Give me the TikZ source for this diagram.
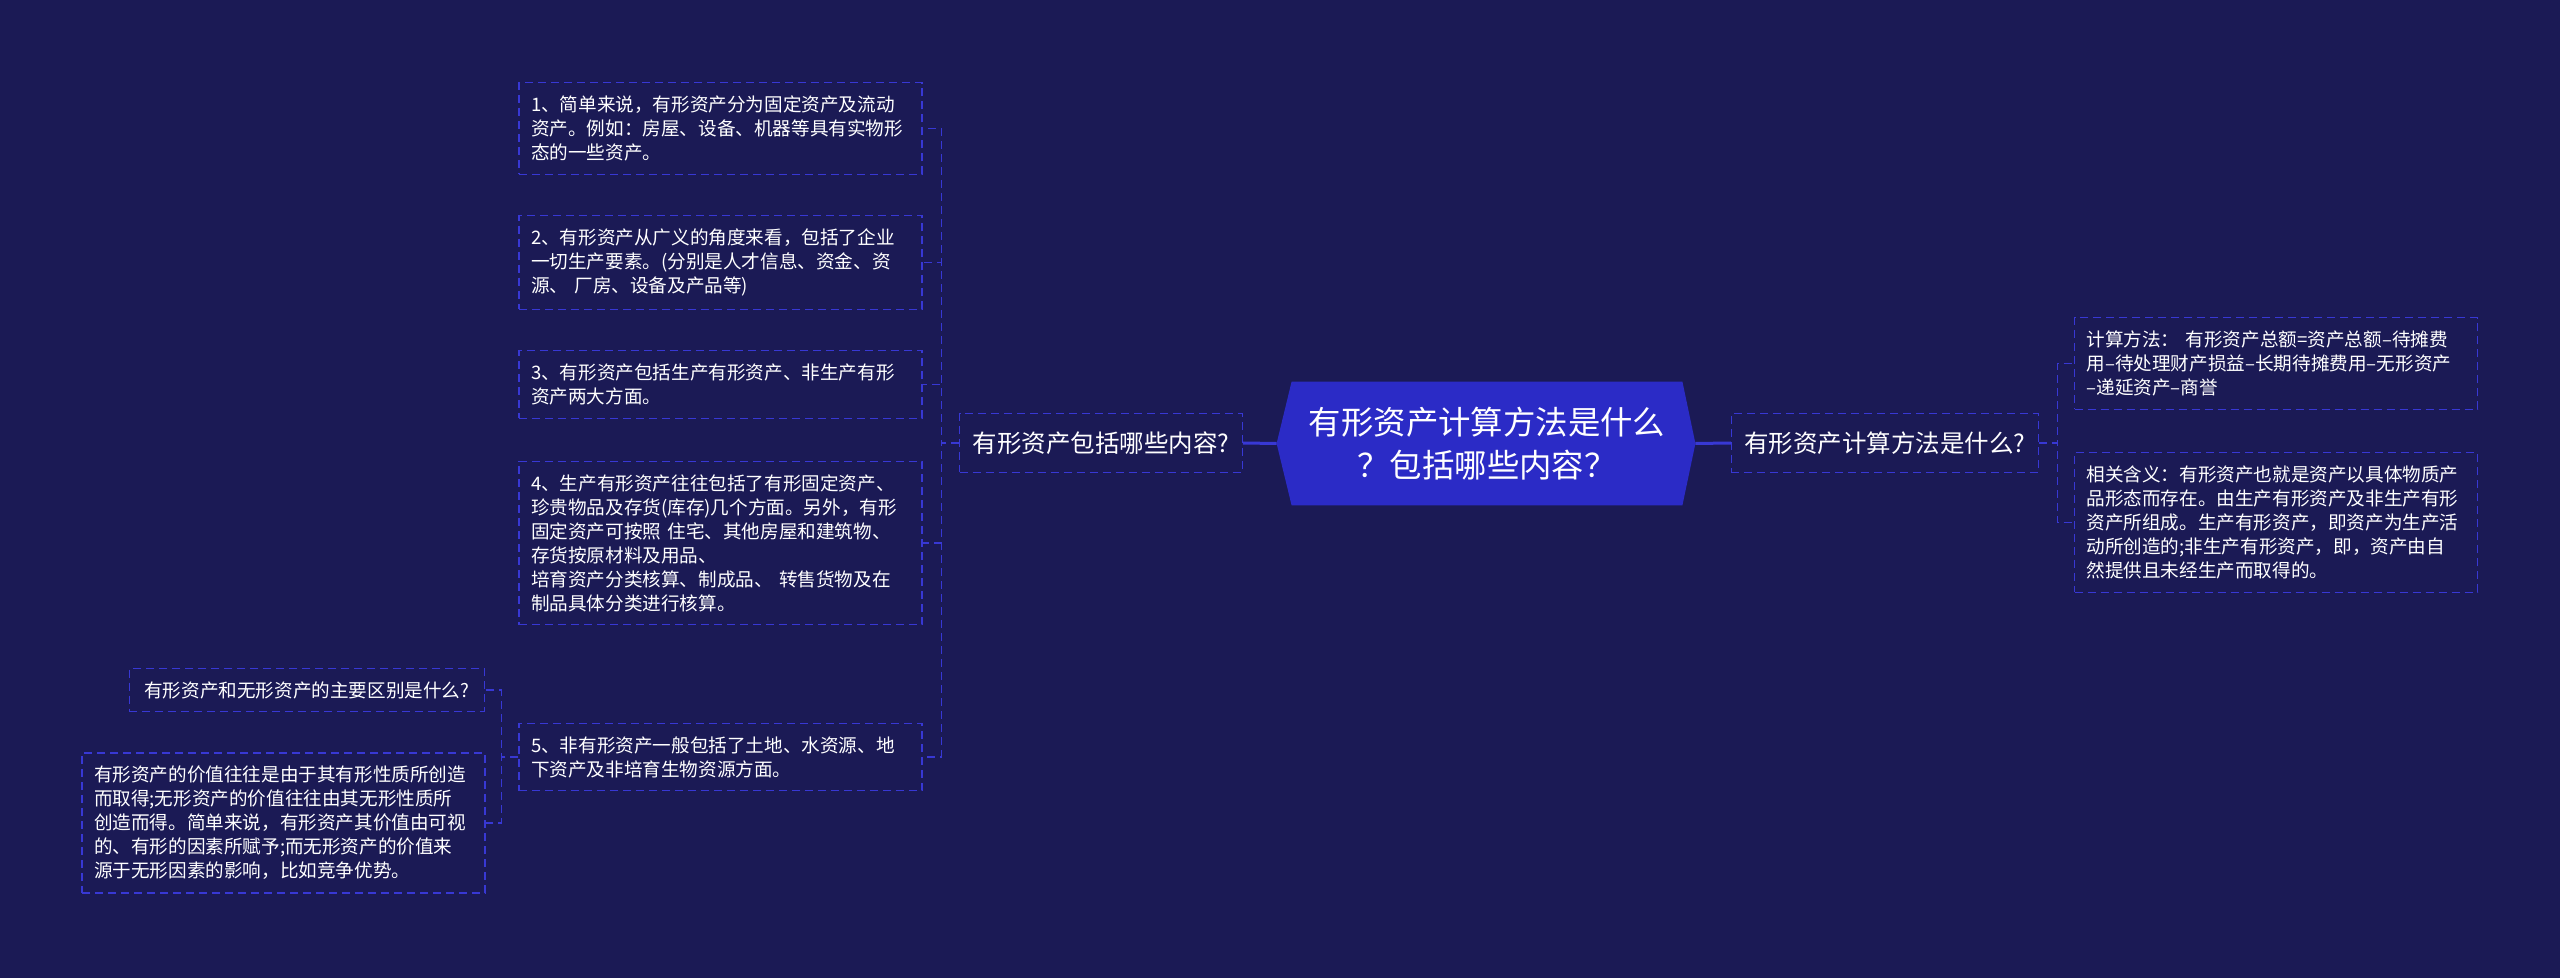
\documentclass[tikz,border=0pt]{standalone}
\usepackage{fontspec}
\setmainfont{Noto Sans CJK SC}
\usetikzlibrary{calc,backgrounds}
\definecolor{canvas}{HTML}{1B1A55}
\definecolor{hubfill}{HTML}{2B2BC6}
\definecolor{linkblue}{HTML}{3838D4}

\begin{document}
\begin{tikzpicture}[x=0.5pt, y=-0.5pt,
  leafbox/.style={rectangle, draw=linkblue, dash pattern=on 4pt off 2.5pt, line width=0.6pt, text=white,
    font=\fontsize{9.3}{12}\selectfont, align=left, text width=189.5pt, inner xsep=6pt, inner ysep=6.6pt},
  askbox/.style={rectangle, draw=linkblue, dash pattern=on 4pt off 2.5pt, line width=0.6pt, text=white,
    font=\fontsize{9.3}{12}\selectfont, inner xsep=7.5pt, inner ysep=6.4pt},
  midbox/.style={rectangle, draw=linkblue, dash pattern=on 4pt off 2.5pt, line width=0.6pt, text=white,
    font=\fontsize{12.25}{15}\selectfont, inner xsep=6.5pt, minimum height=29.5pt},
  hubtext/.style={text=white, font=\fontsize{16.2}{21.7}\selectfont, align=center, minimum width=195pt, minimum height=61.5pt},
  trunk/.style={draw=linkblue, line width=1.5pt},
  branch/.style={draw=linkblue, dash pattern=on 4pt off 2.5pt, line width=0.6pt}
]
  % centre topic
  \node[hubtext] (hub) at (1487,443.5) {有形资产计算方法是什么\\？包括哪些内容？};
  \coordinate (hubL) at ($(hub.west)+(-15,0)$);
  \coordinate (hubR) at ($(hub.east)+(13,0)$);
  \begin{scope}[on background layer]
    \fill[canvas] (0,0) rectangle (2560,978);
    \fill[hubfill] (hubL) -- (hub.north west) -- (hub.north east) -- (hubR) -- (hub.south east) -- (hub.south west) -- cycle;
  \end{scope}

  % main branches
  \node[midbox] (contents) at (1101,443) {有形资产包括哪些内容?};
  \node[midbox] (method) at (1885,443) {有形资产计算方法是什么?};

  % left leaves
  \node[leafbox] (part1) at (720.5,128.5) {1、简单来说，有形资产分为固定资产及流动\\资产。例如：房屋、设备、机器等具有实物形\\态的一些资产。};
  \node[leafbox] (part2) at (720.5,262.5) {2、有形资产从广义的角度来看，包括了企业\\一切生产要素。(分别是人才信息、资金、资\\源、 厂房、设备及产品等)};
  \node[leafbox] (part3) at (720.5,384.5) {3、有形资产包括生产有形资产、非生产有形\\资产两大方面。};
  \node[leafbox] (part4) at (720.5,543) {4、生产有形资产往往包括了有形固定资产、\\珍贵物品及存货(库存)几个方面。另外，有形\\固定资产可按照 住宅、其他房屋和建筑物、\\存货按原材料及用品、\\培育资产分类核算、制成品、 转售货物及在\\制品具体分类进行核算。};
  \node[leafbox] (part5) at (720.5,757) {5、非有形资产一般包括了土地、水资源、地\\下资产及非培育生物资源方面。};

  % sub-branch of part 5
  \node[askbox, anchor=east] (diffq) at (485,690) {有形资产和无形资产的主要区别是什么?};
  \node[leafbox] (diffa) at (283.5,823) {有形资产的价值往往是由于其有形性质所创造\\而取得;无形资产的价值往往由其无形性质所\\创造而得。简单来说，有形资产其价值由可视\\的、有形的因素所赋予;而无形资产的价值来\\源于无形因素的影响，比如竞争优势。};

  % right leaves
  \node[leafbox] (calcrule) at (2276,363.5) {计算方法： 有形资产总额=资产总额–待摊费\\用–待处理财产损益–长期待摊费用–无形资产\\–递延资产–商誉};
  \node[leafbox] (meaning) at (2276,522.5) {相关含义：有形资产也就是资产以具体物质产\\品形态而存在。由生产有形资产及非生产有形\\资产所组成。生产有形资产，即资产为生产活\\动所创造的;非生产有形资产，即，资产由自\\然提供且未经生产而取得的。};

  % connectors
  \draw[trunk] (hubL) -- (contents.east);
  \draw[trunk] (hubR) -- (method.west);
  \foreach \leaf in {part1,part2,part3,part4,part5}
    \draw[branch] (contents.west) -- ++(-18,0) |- (\leaf.east);
  \foreach \leaf in {diffq,diffa}
    \draw[branch] (part5.west) -- ++(-17,0) |- (\leaf.east);
  \foreach \leaf in {calcrule,meaning}
    \draw[branch] (method.east) -- ++(18,0) |- (\leaf.west);
\end{tikzpicture}
\end{document}
